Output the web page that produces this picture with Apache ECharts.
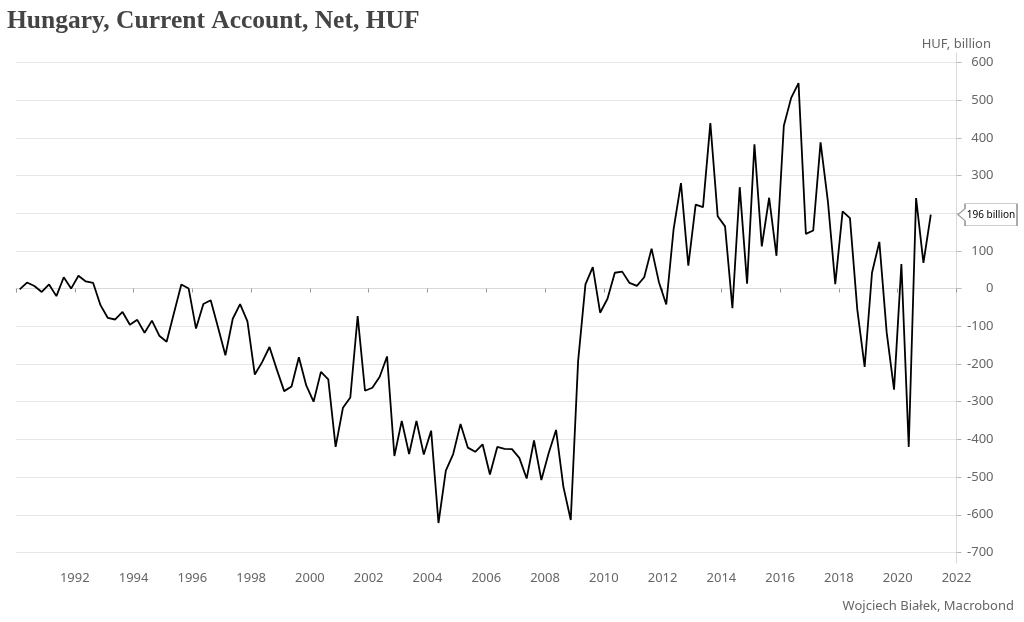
<!DOCTYPE html>
<html>
<head>
<meta charset="utf-8">
<script src="https://cdn.jsdelivr.net/npm/echarts@6/dist/echarts.min.js"></script>
<style>
html,body{margin:0;padding:0;background:#fff;}
#chart{width:1024px;height:622px;}
</style>
</head>
<body>
<div id="chart"></div>
<script>
// Quarterly data, 1990 Q1 .. 2021 Q1, HUF billion
const startYear = 1990;
const values = [
  -2, 16, 7, -9, 11, -20, 30, 0, 34, 19, 15, -44,
  -78, -82, -62, -96, -83, -117, -85, -125, -141, -65, 11, 0,
  -106, -41, -31, -103, -177, -80, -41, -87, -228, -195, -155, -215,
  -272, -260, -182, -257, -300, -221, -241, -420, -316, -289, -73, -271,
  -263, -234, -180, -444, -351, -439, -351, -440, -377, -622, -483, -439,
  -359, -422, -433, -413, -493, -420, -425, -426, -449, -504, -403, -508,
  -436, -375, -526, -614, -193, 11, 57, -64, -27, 42, 45, 15,
  7, 30, 106, 17, -42, 158, 280, 61, 223, 216, 439, 192,
  165, -52, 269, 13, 383, 112, 241, 87, 432, 506, 545, 145,
  154, 388, 231, 12, 205, 187, -56, -208, 42, 124, -117, -268,
  65, -420, 240, 68, 196
];
const quarters = values.map((v, i) => (startYear + Math.floor(i / 4)) + ' Q' + (i % 4 + 1));
const xTickYears = [1990, 1992, 1994, 1996, 1998, 2000, 2002, 2004, 2006, 2008, 2010, 2012, 2014, 2016, 2018, 2020, 2022];
const yTicks = [-700, -600, -500, -400, -300, -200, -100, 0, 100, 200, 300, 400, 500, 600];

const seriesData = values.map((v, i) => {
  const parts = quarters[i].split(' Q');
  return [Number(parts[0]) + (Number(parts[1]) - 0.5) / 4, v];
});
const lastValue = values[values.length - 1];

const font = 'Noto Sans';
const chart = echarts.init(document.getElementById('chart'), null, {renderer: 'canvas'});
chart.setOption({
  backgroundColor: '#ffffff',
  animation: false,
  title: [
    {
      text: 'Hungary, Current Account, Net, HUF',
      left: 2, top: 3,
      textStyle: {fontFamily: 'Liberation Serif', fontWeight: 'bold', fontSize: 25.5, color: '#444444'}
    },
    {
      text: 'HUF, billion',
      right: 28, top: 33,
      textStyle: {fontFamily: font, fontWeight: 'normal', fontSize: 13, color: '#666666'}
    },
    {
      text: 'Wojciech Białek, Macrobond',
      right: 5, top: 595,
      textStyle: {fontFamily: font, fontWeight: 'normal', fontSize: 13, color: '#666666'}
    }
  ],
  grid: {left: 16, right: 67.5, top: 53, bottom: 59, containLabel: false},
  xAxis: {
    type: 'value',
    min: xTickYears[0],
    max: xTickYears[xTickYears.length - 1],
    interval: 2,
    axisLine: {show: true, lineStyle: {color: '#d9d9d9', width: 1}},
    axisTick: {show: true, length: 4, lineStyle: {color: '#999999'}},
    axisLabel: {
      fontFamily: font, fontSize: 13, color: '#666666', margin: 9,
      formatter: v => (v === xTickYears[0] ? '' : String(v))
    },
    splitLine: {show: false}
  },
  yAxis: {
    type: 'value',
    position: 'right',
    min: -728,
    max: 625,
    axisLine: {show: true, lineStyle: {color: '#d9d9d9', width: 1}},
    axisTick: {show: true, length: 5, customValues: yTicks, lineStyle: {color: '#bbbbbb'}},
    axisLabel: {
      customValues: yTicks,
      fontFamily: font, fontSize: 13, color: '#666666', align: 'right', margin: 37
    },
    splitLine: {show: true, lineStyle: {color: '#e6e6e6', width: 1}}
  },
  series: [{
    type: 'line',
    data: seriesData,
    showSymbol: false,
    symbol: 'none',
    lineStyle: {color: '#000000', width: 1.8},
    z: 3,
    markPoint: {
      silent: true,
      data: [{
        coord: [xTickYears[xTickYears.length - 1], lastValue],
        symbol: 'path://M0,11 L7,5 L7,0 L59,0 L59,22 L7,22 L7,17 Z',
        symbolSize: [59, 22],
        symbolOffset: [31, 0],
        itemStyle: {color: '#ffffff', borderColor: '#999999', borderWidth: 1},
        label: {
          show: true, position: 'inside', offset: [3.5, 0],
          formatter: Math.round(lastValue) + ' billion',
          fontFamily: font, fontSize: 10, color: '#000000'
        }
      }]
    }
  }]
});
</script>
</body>
</html>
